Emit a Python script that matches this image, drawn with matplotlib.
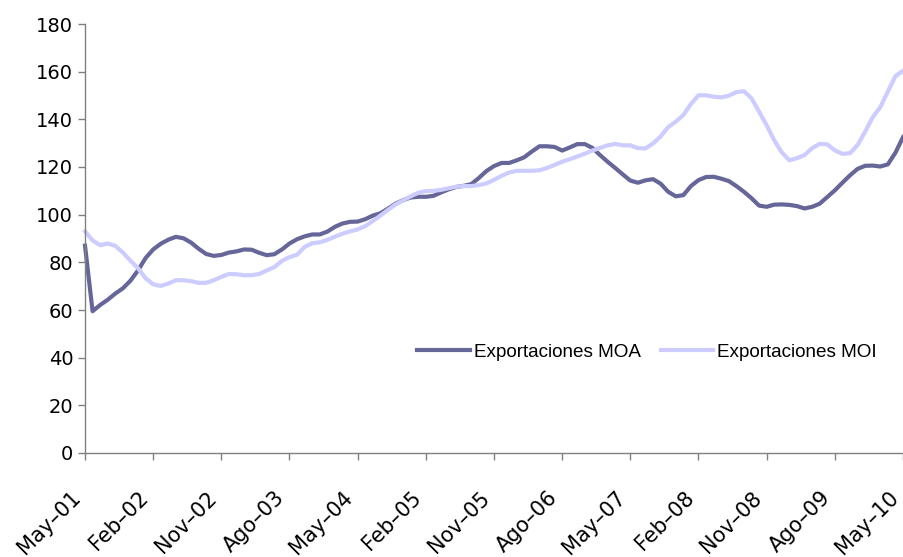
import matplotlib
matplotlib.use("Agg")
import matplotlib.pyplot as plt
import matplotlib.transforms as mtransforms
import numpy as np

# Monthly index from May-01 (0) to May-10 (108)
moa = [87.0, 59.5, 62.1, 64.3, 66.9, 69.1, 72.3, 76.6, 81.8, 85.4,
       87.8, 89.5, 90.7, 90.1, 88.3, 85.7, 83.5, 82.7, 83.1, 84.1,
       84.6, 85.4, 85.3, 84.0, 83.0, 83.4, 85.4, 87.9, 89.7, 90.9,
       91.7, 91.7, 92.9, 94.9, 96.3, 97.0, 97.1, 98.1, 99.6, 100.6,
       102.5, 104.6, 106.1, 107.2, 107.5, 107.5, 107.9, 109.3, 110.6, 111.6,
       112.1, 112.8, 115.4, 118.3, 120.4, 121.7, 121.7, 122.8, 124.1, 126.5,
       128.7, 128.7, 128.4, 126.9, 128.2, 129.6, 129.6, 128.0, 125.0, 122.2,
       119.6, 116.9, 114.3, 113.4, 114.4, 114.9, 113.0, 109.6, 107.7, 108.2,
       112.0, 114.5, 115.8, 115.9, 115.1, 114.1, 112.0, 109.6, 106.9, 103.8,
       103.3, 104.2, 104.3, 104.1, 103.6, 102.6, 103.3, 104.6, 107.4, 110.2,
       113.4, 116.5, 119.2, 120.5, 120.6, 120.2, 121.1, 126.0, 132.5]

moi = [93.0, 89.2, 87.2, 87.9, 86.9, 84.1, 80.7, 77.5, 73.3, 70.8,
       70.1, 71.1, 72.5, 72.5, 72.1, 71.4, 71.4, 72.5, 73.9, 75.1,
       75.0, 74.6, 74.6, 75.1, 76.6, 78.0, 80.6, 82.2, 83.2, 86.5,
       88.0, 88.4, 89.4, 90.8, 92.0, 93.0, 93.8, 95.2, 97.3, 99.6,
       102.0, 104.3, 106.0, 107.7, 109.2, 109.9, 110.0, 110.4, 111.1, 111.7,
       112.0, 112.0, 112.4, 113.1, 114.6, 116.3, 117.7, 118.4, 118.4, 118.4,
       118.6, 119.6, 120.9, 122.2, 123.3, 124.4, 125.6, 126.9, 128.0, 129.1,
       129.7, 129.1, 129.1, 127.9, 127.8, 129.9, 132.8, 136.8, 139.0, 141.8,
       146.4, 150.1, 150.1, 149.5, 149.2, 149.9, 151.4, 151.8, 148.8, 143.2,
       137.5, 131.2, 126.1, 122.8, 123.7, 125.0, 127.9, 129.7, 129.5, 127.0,
       125.5, 125.8, 129.2, 134.8, 140.9, 145.1, 151.7, 158.1, 160.4]

tick_labels = ["May–01", "Feb–02", "Nov–02", "Ago–03", "May–04", "Feb–05",
               "Nov–05", "Ago–06", "May–07", "Feb–08", "Nov–08", "Ago–09",
               "May–10"]
series_names = ["Exportaciones MOA", "Exportaciones MOI"]

months = np.arange(len(moa))
tick_pos = months[::9]

fig = plt.figure(figsize=(9.04, 5.57), dpi=100)
ax = fig.add_axes([85/904, 1 - 453/557, (903 - 85)/904, (453 - 24)/557])

ax.plot(months, moa, color="#666699", lw=3.0, label=series_names[0],
        solid_joinstyle="round", clip_on=False)
ax.plot(months, moi, color="#CCCCFF", lw=3.0, label=series_names[1],
        solid_joinstyle="round", clip_on=False)

ax.set_xlim(0, 108)
ax.set_ylim(0, 180)
ax.set_yticks(np.arange(0, 181, 20))
ax.tick_params(axis="y", direction="out", length=5, width=1, color="#808080",
               labelsize=14, pad=3.5)
ax.set_xticks(tick_pos)
ax.set_xticklabels(tick_labels, rotation=45, ha="right", va="top",
                   rotation_mode="anchor", fontsize=15)
ax.tick_params(axis="x", direction="out", length=5, width=1, color="#808080",
               pad=20)
offset = mtransforms.ScaledTranslation(-15/100, 0, fig.dpi_scale_trans)
for lbl in ax.get_xticklabels():
    lbl.set_transform(lbl.get_transform() + offset)

for s in ["top", "right"]:
    ax.spines[s].set_visible(False)
for s in ["left", "bottom"]:
    ax.spines[s].set_color("#808080")
    ax.spines[s].set_linewidth(1)

leg = ax.legend(loc="center left", bbox_to_anchor=(0.406, 0.235), ncol=2,
                frameon=False, prop={"family": "Liberation Sans", "size": 13.6},
                handlelength=2.8, handletextpad=0.2, columnspacing=1.05,
                borderpad=0, borderaxespad=0)

fig.savefig("out.png", dpi=100)
